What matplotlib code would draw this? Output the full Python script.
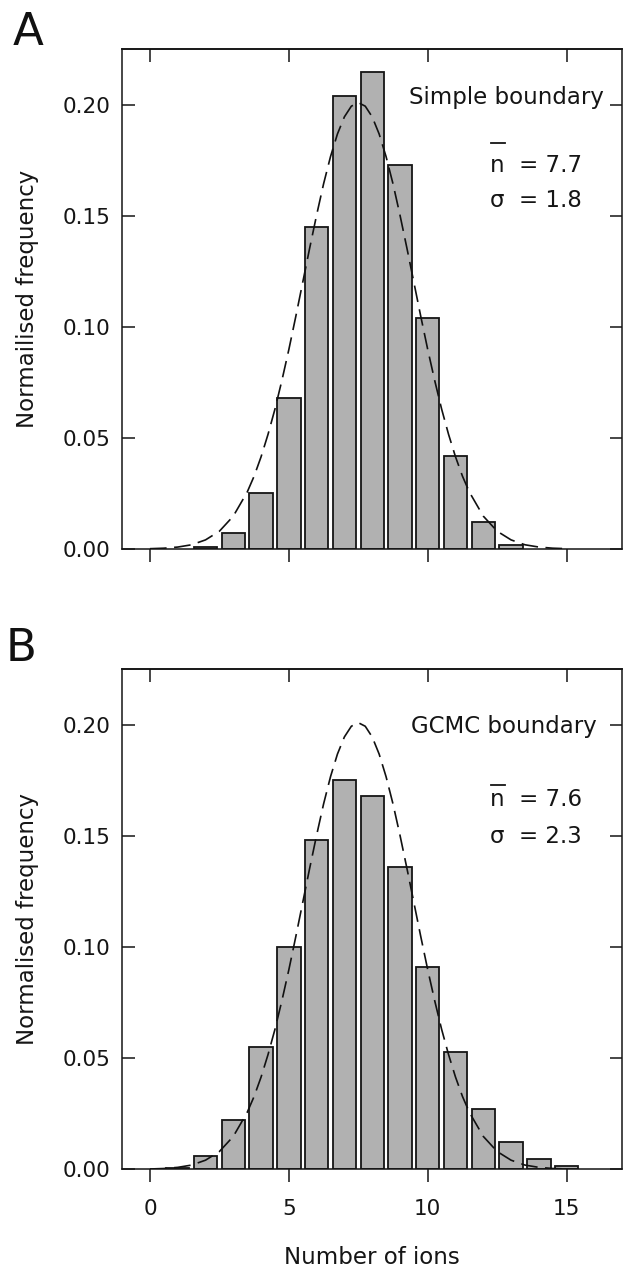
import matplotlib
matplotlib.use("Agg")
import matplotlib.pyplot as plt
from matplotlib.ticker import FormatStrFormatter

plt.rcParams['font.family'] = ['DejaVu Sans']

# ---------------- data ----------------
ions_A = [2, 3, 4, 5, 6, 7, 8, 9, 10, 11, 12, 13]
freq_A = [0.001, 0.007, 0.025, 0.068, 0.145, 0.204, 0.215, 0.173, 0.104, 0.042, 0.012, 0.002]

ions_B = [1, 2, 3, 4, 5, 6, 7, 8, 9, 10, 11, 12, 13, 14, 15]
freq_B = [0.0008, 0.0062, 0.022, 0.055, 0.100, 0.148, 0.175, 0.168, 0.136, 0.091, 0.053,
          0.027, 0.0125, 0.0047, 0.0015]

# dashed reference curve (same in both panels)
curve_x = [0.0, 0.5, 1.0, 1.5, 2.0, 2.5, 3.0, 3.5, 3.75, 4.0, 4.25, 4.5, 4.75, 5.0, 5.25,
           5.5, 5.75, 6.0, 6.25, 6.5, 6.75, 7.0, 7.25, 7.5, 7.75, 8.0, 8.25, 8.5, 8.75,
           9.0, 9.25, 9.5, 9.75, 10.0, 10.25, 10.5, 10.75, 11.0, 11.25, 11.5, 12.0, 12.5,
           13.0, 13.5, 14.0, 14.5, 15.0]
curve_y = [0.00014, 0.00036, 0.00087, 0.0019, 0.0041, 0.0080, 0.0148, 0.0256, 0.0328,
           0.0415, 0.0516, 0.0630, 0.0759, 0.0898, 0.1047, 0.1201, 0.1355, 0.1504, 0.1644,
           0.1767, 0.1869, 0.1946, 0.1994, 0.2010, 0.1994, 0.1946, 0.1869, 0.1767, 0.1644,
           0.1504, 0.1355, 0.1201, 0.1047, 0.0898, 0.0759, 0.0630, 0.0516, 0.0415, 0.0328,
           0.0256, 0.0148, 0.0080, 0.0041, 0.0019, 0.00087, 0.00036, 0.00014]

x_ticks = [0, 5, 10, 15]
y_ticks = [0.00, 0.05, 0.10, 0.15, 0.20]

titles = ["Simple boundary", "GCMC boundary"]
mean_labels = ["n  = 7.7", "n  = 7.6"]
sigma_labels = ["\u03c3  = 1.8", "\u03c3  = 2.3"]
ylabels = ["Normailised frequency", "Normalised frequency"]
xlabel = "Number of ions"
panel_letters = ["A", "B"]

# ---------------- figure ----------------
fig = plt.figure(figsize=(6.23, 12.76), dpi=100)
axA = fig.add_axes([0.1961, 0.56975, 0.8026, 0.3916])
axB = fig.add_axes([0.1961, 0.08362, 0.8026, 0.3918])

BAR_COLOR = "#b1b1b1"
INK = "#151515"
LW = 1.1
TICK_FS = 15.5
LABEL_FS = 16.5

def style(ax, show_xlabels):
    ax.set_xlim(-1, 17)
    ax.set_ylim(0, 0.225)
    ax.set_xticks(x_ticks)
    ax.set_yticks(y_ticks)
    ax.yaxis.set_major_formatter(FormatStrFormatter('%.2f'))
    for s in ax.spines.values():
        s.set_linewidth(LW)
        s.set_color(INK)
    ax.tick_params(axis='x', direction='out', length=9.5, width=LW, pad=12,
                   labelsize=TICK_FS, labelbottom=show_xlabels, colors=INK)
    ax.tick_params(axis='y', direction='in', length=9, width=LW, pad=8.5,
                   left=True, right=True, labelsize=TICK_FS, colors=INK)
    sec = ax.secondary_xaxis('top')
    sec.set_xticks(x_ticks)
    sec.tick_params(axis='x', direction='in', length=9, width=LW, labeltop=False,
                    colors=INK)
    sec.spines['top'].set_linewidth(LW)

def draw(ax, xs, ys, idx, title_y, n_y, s_y, bar_y, title_x):
    ax.bar(xs, ys, width=0.84, color=BAR_COLOR, edgecolor=INK, linewidth=1.3, zorder=2)
    ln, = ax.plot(curve_x, curve_y, color="#111111", linewidth=1.2, zorder=3)
    ln.set_dashes((10, 4.5))
    ax.text(title_x, title_y, titles[idx], transform=ax.transAxes, ha='right',
            va='baseline', fontsize=LABEL_FS, color=INK)
    ax.text(0.7356, n_y, mean_labels[idx], transform=ax.transAxes, ha='left',
            va='baseline', fontsize=LABEL_FS, color=INK)
    ax.text(0.7356, s_y, sigma_labels[idx], transform=ax.transAxes, ha='left',
            va='baseline', fontsize=LABEL_FS, color=INK)
    ax.plot([0.7376, 0.7656], [bar_y, bar_y], transform=ax.transAxes, color=INK,
            linewidth=1.3, clip_on=False)
    ax.set_ylabel(ylabels[idx], fontsize=LABEL_FS, color=INK)
    ax.yaxis.set_label_coords(-0.167, 0.5)

style(axA, False)
style(axB, True)
draw(axA, ions_A, freq_A, 0, 0.8914, 0.7546, 0.684, 0.8126, 0.963)
draw(axB, ions_B, freq_B, 1, 0.8726, 0.7266, 0.652, 0.7686, 0.9496)

axB.set_xlabel(xlabel, fontsize=LABEL_FS, color=INK)
axB.xaxis.set_label_coords(0.5, -0.153)

fig.text(0.0209, 1 - 45 / 1276, panel_letters[0], fontsize=32.5, va='baseline',
         ha='left', color="#111111")
fig.text(0.009, 1 - 661 / 1276, panel_letters[1], fontsize=32.5, va='baseline',
         ha='left', color="#111111")

fig.savefig("out.png", dpi=100)
